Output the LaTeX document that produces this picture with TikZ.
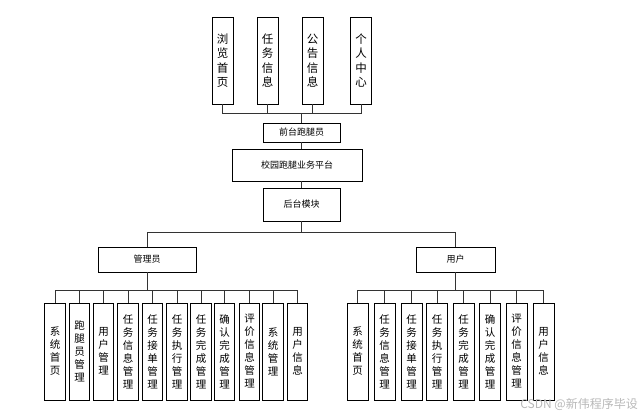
\documentclass[tikz,border=0pt]{standalone}
\usepackage{fontspec}
\setmainfont{Noto Sans CJK SC}
\begin{document}
\begin{tikzpicture}[x=1pt,y=-1pt,
  bx/.style={draw=black,line width=0.8pt,inner sep=0pt,align=center},
  topv/.style={bx,minimum width=21pt,minimum height=87pt,font=\fontsize{11.5}{14.5}\selectfont},
  subv/.style={bx,minimum width=20.5pt,minimum height=97pt,font=\fontsize{10.5}{13}\selectfont},
  hbox/.style={bx,font=\fontsize{9}{11}\selectfont},
  conn/.style={draw=black!80,line width=0.8pt}]
\useasboundingbox (0,0) rectangle (640,415);
% top row
\node[topv] (t1) at (222.5,60.5) {浏\\览\\首\\页};
\node[topv] (t2) at (267.5,60.5) {任\\务\\信\\息};
\node[topv] (t3) at (312.5,60.5) {公\\告\\信\\息};
\node[topv] (t4) at (361,60.5) {个\\人\\中\\心};
\node[hbox,minimum width=77pt,minimum height=19pt] (front) at (301.5,132.5) {前台跑腿员};
\node[hbox,minimum width=130pt,minimum height=32pt] (plat) at (297,165) {校园跑腿业务平台};
\node[hbox,minimum width=77pt,minimum height=33pt] (back) at (301.5,204.5) {后台模块};
\foreach \i in {1,...,4} \draw[conn] (t\i.south) -- ++(0,9) -| (front.north);
\draw[conn] (front.south) -- (front.south |- plat.north);
\draw[conn] (back.north |- plat.south) -- (back.north);
% second level
\node[hbox,minimum width=98pt,minimum height=25pt] (adm) at (147,259.5) {管理员};
\node[hbox,minimum width=79pt,minimum height=25pt] (usr) at (455.5,259.5) {用户};
\draw[conn] (back.south) -- ++(0,11) -| (adm.north);
\draw[conn] (back.south) -- ++(0,11) -| (usr.north);
% admin children
\node[subv] (a1) at (55,351.5) {系\\统\\首\\页};
\node[subv] (a2) at (79.5,351.5) {跑\\腿\\员\\管\\理};
\node[subv] (a3) at (103.5,351.5) {用\\户\\管\\理};
\node[subv] (a4) at (128,351.5) {任\\务\\信\\息\\管\\理};
\node[subv] (a5) at (152.5,351.5) {任\\务\\接\\单\\管\\理};
\node[subv] (a6) at (177,351.5) {任\\务\\执\\行\\管\\理};
\node[subv] (a7) at (201,351.5) {任\\务\\完\\成\\管\\理};
\node[subv] (a8) at (224.5,351.5) {确\\认\\完\\成\\管\\理};
\node[subv] (a9) at (249.5,351.5) {评\\价\\信\\息\\管\\理};
\node[subv] (a10) at (273,351.5) {系\\统\\管\\理};
\node[subv] (a11) at (297.5,351.5) {用\\户\\信\\息};
\foreach \i in {1,...,11} \draw[conn] (a\i.north) -- ++(0,-12) -| (adm.south);
% user children
\node[subv,minimum width=21pt] (u1) at (357.5,351.5) {系\\统\\首\\页};
\node[subv,minimum width=21pt] (u2) at (384.5,351.5) {任\\务\\信\\息\\管\\理};
\node[subv,minimum width=21pt] (u3) at (411.5,351.5) {任\\务\\接\\单\\管\\理};
\node[subv,minimum width=21pt] (u4) at (437,351.5) {任\\务\\执\\行\\管\\理};
\node[subv,minimum width=21pt] (u5) at (463.5,351.5) {任\\务\\完\\成\\管\\理};
\node[subv,minimum width=21pt] (u6) at (490,351.5) {确\\认\\完\\成\\管\\理};
\node[subv,minimum width=21pt] (u7) at (516.5,351.5) {评\\价\\信\\息\\管\\理};
\node[subv,minimum width=21pt] (u8) at (543.5,351.5) {用\\户\\信\\息};
\foreach \i in {1,...,8} \draw[conn] (u\i.north) -- ++(0,-12) -| (usr.south);
% watermark
\node[text=black!28,font=\fontsize{12}{14}\selectfont,inner sep=0pt,anchor=east] (wm) at (638,404.5) {CSDN @新伟程序毕设};
\end{tikzpicture}
\end{document}
